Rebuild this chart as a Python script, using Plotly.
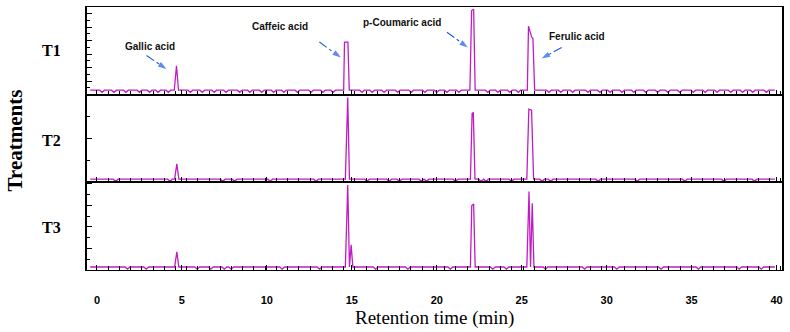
import plotly.graph_objects as go
from plotly.subplots import make_subplots

# ---------------- data ----------------
treatments = ["T1", "T2", "T3"]
compounds = ["Gallic acid", "Caffeic acid", "p-Coumaric acid", "Ferulic acid"]
x_ticks = [0, 5, 10, 15, 20, 25, 30, 35, 40]

baseline = {"T1": 5.1, "T2": 3.6, "T3": 3.4}

# times (min) of small baseline dips
dips_T1 = [0.3, 1.0, 1.7, 2.5, 3.1, 3.6, 4.2, 5.5, 6.2, 6.9, 7.6, 8.4, 9.0, 9.7,
           10.4, 11.0, 11.8, 12.6, 13.3, 13.9, 15.6, 16.2, 16.9, 17.7, 18.5, 19.3,
           20.0, 20.6, 21.3, 23.0, 23.6, 24.3, 24.8, 26.6, 27.3, 28.0, 28.9, 29.6,
           30.2, 30.9, 31.6, 32.3, 33.0, 33.6, 34.3, 35.1, 35.8, 36.5, 37.3, 38.0,
           38.6, 39.4]
dips_T2 = [1.1, 4.3, 7.4, 8.1, 10.2, 12.9, 15.9, 17.2, 17.8, 19.1, 19.4, 21.1,
           22.6, 22.9, 24.4, 26.2, 26.7, 29.5, 31.8, 34.6, 36.9, 38.7]
dips_T3 = [1.8, 2.9, 5.9, 6.7, 7.5, 7.9, 10.9, 13.1, 16.4, 18.3, 20.8, 23.3,
           24.1, 26.4, 28.7, 30.6, 33.2, 35.4, 37.8, 39.1]

# peak apex points (time, intensity as % of panel height); None = back to baseline
peaks_T1_t = [4.55, 4.68, 4.80,
              14.52, 14.57, 14.77, 14.85,
              21.95, 22.05, 22.17, 22.26,
              25.33, 25.40, 25.58, 25.66, 25.76]
peaks_T1_y = [None, 33.0, None,
              None, 60.0, 60.0, None,
              None, 96.0, 97.5, None,
              None, 78.0, 66.0, 64.0, None]

peaks_T2_t = [4.57, 4.70, 4.82,
              14.62, 14.76, 14.86,
              21.98, 22.08, 22.15, 22.25,
              25.30, 25.42, 25.58, 25.70]
peaks_T2_y = [None, 21.0, None,
              None, 96.8, None,
              None, 78.5, 79.8, None,
              None, 83.5, 82.4, None]

peaks_T3_t = [4.57, 4.70, 4.82,
              14.62, 14.76, 14.86, 14.96, 15.06,
              21.98, 22.06, 22.17, 22.26,
              25.30, 25.43, 25.52, 25.62, 25.72]
peaks_T3_y = [None, 20.6, None,
              None, 97.0, None, 28.6, None,
              None, 73.5, 75.4, None,
              None, 89.5, None, 76.2, None]

dips = {"T1": dips_T1, "T2": dips_T2, "T3": dips_T3}
peaks = {"T1": (peaks_T1_t, peaks_T1_y),
         "T2": (peaks_T2_t, peaks_T2_y),
         "T3": (peaks_T3_t, peaks_T3_y)}

# ---------------- build traces ----------------
def build(name):
    b = baseline[name]
    pts = [(-0.4, b), (39.9, b)]
    for d in dips[name]:
        pts += [(d - 0.14, b), (d, b - 2.4), (d + 0.14, b)]
    pt, py = peaks[name]
    for t, y in zip(pt, py):
        pts.append((t, b if y is None else y))
    pts.sort(key=lambda p: p[0])
    return [p[0] for p in pts], [p[1] for p in pts]

fig = make_subplots(rows=3, cols=1, shared_xaxes=True, vertical_spacing=0)

line_col = "#c01cc4"
for i, name in enumerate(treatments):
    xs, ys = build(name)
    fig.add_trace(go.Scatter(x=xs, y=ys, mode="lines",
                             line=dict(color=line_col, width=1.3),
                             showlegend=False, hoverinfo="skip"),
                  row=i + 1, col=1)

# ---------------- annotation arrows (panel T1) ----------------
arrow_col = "#1a5ae6"
arrows = [((2.92, 44.6), (4.09, 29.3)),
          ((13.09, 60.0), (14.36, 42.3)),
          ((20.60, 71.2), (21.83, 53.9)),
          ((27.35, 53.9), (26.17, 41.2))]
for (x0, y0), (x1, y1) in arrows:
    fig.add_trace(go.Scatter(x=[x0, x1], y=[y0, y1], mode="lines+markers",
                             line=dict(color=arrow_col, width=1.1, dash="dashdot"),
                             marker=dict(symbol=["circle", "arrow"], size=[0, 9],
                                         color=arrow_col, angleref="previous",
                                         line=dict(width=0)),
                             showlegend=False, hoverinfo="skip"),
                  row=1, col=1)

label_pos = [(3.11, 55.0), (10.8, 77.3), (17.96, 82.7), (28.23, 66.5)]
for txt, (lx, ly) in zip(compounds, label_pos):
    fig.add_annotation(x=lx, y=ly, xref="x", yref="y", text=txt, showarrow=False,
                       xanchor="center", yanchor="middle",
                       font=dict(family="Liberation Sans", size=10, color="#111",
                                 weight="bold"))

# ---------------- axes ----------------
for r in (1, 2, 3):
    fig.update_xaxes(range=[-0.587, 40.32], showline=True, linecolor="black",
                     linewidth=1.3, mirror=True, ticks="inside", ticklen=5,
                     tickcolor="black", tickwidth=1.2, dtick=5, tick0=0,
                     showgrid=False, zeroline=False,
                     minor=dict(ticks="inside", ticklen=4, dtick=0.66, tick0=0,
                                tickcolor="black", tickwidth=1, showgrid=False),
                     showticklabels=(r == 3), row=r, col=1)
    fig.update_yaxes(range=[0, 100], showline=True, linecolor="black",
                     linewidth=1.5, mirror=True, ticks="inside", ticklen=5,
                     tickcolor="black", tickwidth=1.2, showticklabels=False,
                     showgrid=False, zeroline=False, row=r, col=1)

fig.update_yaxes(dtick=15.4, minor=dict(ticks="inside", ticklen=3, dtick=7.7,
                                        tickcolor="black"), row=1, col=1)
fig.update_yaxes(dtick=50, minor=dict(ticks="inside", ticklen=3, dtick=25,
                                      tickcolor="black"), row=2, col=1)
fig.update_yaxes(dtick=24.6, minor=dict(ticks="inside", ticklen=3, dtick=12.3,
                                        tickcolor="black"), row=3, col=1)

fig.update_xaxes(tickvals=x_ticks, ticktext=[str(v) for v in x_ticks],
                 tickfont=dict(family="Liberation Sans", size=11, color="black",
                               weight="bold"),
                 ticklabelstandoff=20, row=3, col=1)

# ---------------- text ----------------
t_pos = [0.833, 0.494, 0.160]
for name, yp in zip(treatments, t_pos):
    fig.add_annotation(x=-0.0517, y=yp, xref="paper", yref="paper", text=name,
                       showarrow=False, xanchor="center", yanchor="middle",
                       font=dict(family="Liberation Serif", size=16, color="black",
                                 weight="bold"))
fig.add_annotation(x=-0.103, y=0.494, xref="paper", yref="paper",
                   text="Treatments", textangle=-90, showarrow=False,
                   xanchor="center", yanchor="middle",
                   font=dict(family="Liberation Serif", size=21, color="black",
                             weight="bold"))
fig.add_annotation(x=0.4993, y=-0.1825, xref="paper", yref="paper",
                   text="Retention time (min)", showarrow=False,
                   xanchor="center", yanchor="middle",
                   font=dict(family="Liberation Serif", size=19, color="black"))

fig.update_layout(width=790, height=332, margin=dict(l=87, r=6, t=7, b=62),
                  paper_bgcolor="white", plot_bgcolor="white")

fig.write_html("out.html")
